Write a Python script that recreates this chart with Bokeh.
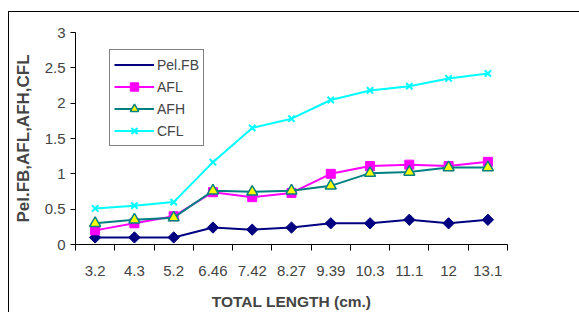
import math
from bokeh.plotting import figure
from bokeh.layouts import column
from bokeh.models import Range1d, FixedTicker, Legend, LegendItem, NumeralTickFormatter
from bokeh.embed import file_html
from bokeh.resources import INLINE

lengths = ["3.2", "4.3", "5.2", "6.46", "7.42", "8.27", "9.39", "10.3", "11.1", "12", "13.1"]
pel_fb = [0.10, 0.10, 0.10, 0.24, 0.21, 0.24, 0.30, 0.30, 0.35, 0.30, 0.35]
afl = [0.20, 0.30, 0.40, 0.74, 0.67, 0.73, 1.00, 1.11, 1.13, 1.11, 1.17]
afh = [0.30, 0.35, 0.38, 0.76, 0.745, 0.76, 0.83, 1.01, 1.025, 1.09, 1.09]
cfl = [0.51, 0.55, 0.60, 1.165, 1.65, 1.78, 2.045, 2.18, 2.24, 2.35, 2.42]
y_ticks = [0, 0.5, 1, 1.5, 2, 2.5, 3]

n = len(lengths)
xs = [i + 0.5 for i in range(n)]

FONT = "Liberation Sans"
W, H = 570, 300

p = figure(width=W, height=H, output_backend="svg", toolbar_location=None,
           x_range=Range1d(0, n), y_range=Range1d(0, 3),
           min_border_left=66, min_border_top=20, min_border_bottom=65, min_border_right=72,
           background_fill_color="white", border_fill_color="white")
p.outline_line_color = None
p.grid.grid_line_color = None

# x axis: labels at category centers, ticks at boundaries
xa = p.xaxis[0]
xa.ticker = FixedTicker(ticks=xs, minor_ticks=list(range(n + 1)))
xa.major_label_overrides = {x: lab for x, lab in zip(xs, lengths)}
xa.major_tick_line_color = None
xa.major_tick_out = 6
xa.major_tick_in = 0
xa.minor_tick_out = 6
xa.minor_tick_in = 0
xa.minor_tick_line_color = "black"
xa.major_label_standoff = 15
xa.axis_label = "TOTAL LENGTH (cm.)"
xa.axis_label_text_font = FONT
xa.axis_label_text_font_style = "bold"
xa.axis_label_text_font_size = "15.5px"
xa.axis_label_standoff = 14
xa.major_label_text_font = FONT
xa.major_label_text_font_size = "15px"
xa.axis_line_color = "black"

ya = p.yaxis[0]
ya.ticker = FixedTicker(ticks=y_ticks)
ya.formatter = NumeralTickFormatter(format="0.[0]")
ya.minor_tick_line_color = None
ya.major_tick_out = 5
ya.major_tick_in = 0
ya.major_label_standoff = 5
ya.axis_label = "Pel.FB,AFL,AFH,CFL"
ya.axis_label_text_font = FONT
ya.axis_label_text_font_style = "bold"
ya.axis_label_text_font_size = "17px"
ya.axis_label_standoff = 9
ya.major_label_text_font = FONT
ya.major_label_text_font_size = "15px"
ya.axis_line_color = "black"

l1 = p.line(xs, pel_fb, line_color="#000080", line_width=2)
s1 = p.scatter(xs, pel_fb, marker="square", angle=math.pi / 4, size=8,
               fill_color="#000080", line_color="#000080")
k1 = p.scatter([], [], marker="diamond", size=12, fill_color="#000080", line_color="#000080")
l2 = p.line(xs, afl, line_color="#FF00FF", line_width=2)
s2 = p.scatter(xs, afl, marker="square", size=9, fill_color="#FF00FF", line_color="#FF00FF")
l3 = p.line(xs, afh, line_color="#008080", line_width=2)
s3 = p.scatter(xs, afh, marker="triangle", size=11, fill_color="#FFFF00",
               line_color="#008080", line_width=1.5)
l4 = p.line(xs, cfl, line_color="#00FFFF", line_width=2)
s4 = p.scatter(xs, cfl, marker="x", size=9, line_color="#00FFFF", line_width=2)

legend = Legend(items=[
    LegendItem(label="Pel.FB", renderers=[l1, k1]),
    LegendItem(label="AFL", renderers=[l2, s2]),
    LegendItem(label="AFH", renderers=[l3, s3]),
    LegendItem(label="CFL", renderers=[l4, s4]),
], location=(34, 98))
legend.border_line_color = "black"
legend.border_line_width = 1
legend.background_fill_alpha = 1
legend.label_text_font = FONT
legend.label_text_font_size = "14px"
legend.glyph_width = 40
legend.glyph_height = 21
legend.label_height = 21
legend.label_standoff = 3
legend.spacing = 1
legend.padding = 4
legend.margin = 0
p.add_layout(legend)

layout = column(p, styles={"box-shadow": "inset 1px 1px 0 0 black", "padding-left": "1px",
                           "padding-top": "1px", "margin-left": "8px", "margin-top": "11px"})

open("out.html", "w").write(file_html(layout, INLINE))
